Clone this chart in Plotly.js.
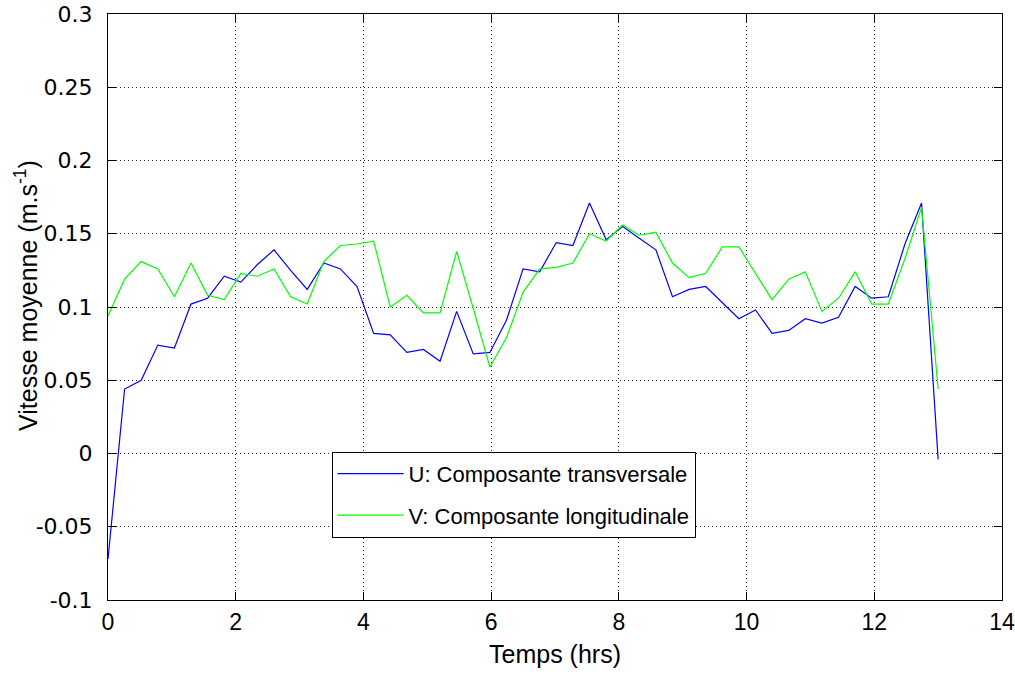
<!DOCTYPE html>
<html>
<head>
<meta charset="utf-8">
<script src="https://cdn.plot.ly/plotly-3.0.1.min.js"></script>
<style>html,body{margin:0;padding:0;background:#fff;}#chart{width:1015px;height:682px;}</style>
</head>
<body>
<div id="chart"></div>
<script>
// Time (hrs)
const temps = [0, 0.26, 0.52, 0.78, 1.04, 1.30, 1.56, 1.82, 2.08, 2.34,
  2.60, 2.86, 3.12, 3.38, 3.64, 3.90, 4.16, 4.42, 4.68, 4.94,
  5.20, 5.46, 5.72, 5.98, 6.24, 6.50, 6.76, 7.02, 7.28, 7.54,
  7.80, 8.06, 8.32, 8.58, 8.84, 9.10, 9.36, 9.62, 9.88, 10.14,
  10.40, 10.66, 10.92, 11.18, 11.44, 11.70, 11.96, 12.22, 12.48, 12.74, 13.00];

// U: Composante transversale
const uValues = [-0.072, 0.044, 0.050, 0.074, 0.072, 0.102, 0.106, 0.121, 0.117, 0.129,
  0.139, 0.125, 0.112, 0.130, 0.126, 0.114, 0.082, 0.081, 0.069, 0.071,
  0.063, 0.097, 0.068, 0.069, 0.091, 0.126, 0.124, 0.144, 0.142, 0.171,
  0.146, 0.155, 0.147, 0.139, 0.107, 0.112, 0.114, 0.103, 0.092, 0.098,
  0.082, 0.084, 0.092, 0.089, 0.093, 0.114, 0.106, 0.107, 0.143, 0.171, -0.004];

// V: Composante longitudinale
const vValues = [0.094, 0.119, 0.131, 0.126, 0.107, 0.130, 0.108, 0.105, 0.123, 0.121,
  0.126, 0.107, 0.102, 0.131, 0.142, 0.143, 0.145, 0.100, 0.108, 0.096,
  0.096, 0.138, 0.099, 0.059, 0.079, 0.110, 0.126, 0.127, 0.130, 0.150,
  0.145, 0.156, 0.149, 0.151, 0.130, 0.120, 0.123, 0.141, 0.141, 0.123,
  0.105, 0.119, 0.124, 0.097, 0.106, 0.124, 0.102, 0.102, 0.133, 0.168, 0.044];

const seriesNames = ['U: Composante transversale', 'V: Composante longitudinale'];
const xTicks = [0, 2, 4, 6, 8, 10, 12, 14];
const yTicks = [-0.1, -0.05, 0, 0.05, 0.1, 0.15, 0.2, 0.25, 0.3];
const yTickLabels = ['-0.1', '-0.05', '0', '0.05', '0.1', '0.15', '0.2', '0.25', '0.3'];
const xTitle = 'Temps (hrs)';
const yTitle = 'Vitesse moyenne (m.s<sup>-1</sup>)';

const fontFam = 'Liberation Sans, Arial, Helvetica, sans-serif';

const traces = [
  {x: temps, y: uValues, type: 'scatter', mode: 'lines', name: seriesNames[0],
   legendgroup: 'u', line: {color: '#0000ff', width: 1.2}},
  {x: temps, y: vValues, type: 'scatter', mode: 'lines', name: seriesNames[1],
   legendgroup: 'v', line: {color: '#00ff00', width: 1.2}}
];

const axisCommon = {
  showline: true, linecolor: '#000', linewidth: 1, mirror: 'ticks',
  ticks: 'inside', ticklen: 8, tickcolor: '#000', tickwidth: 1,
  showgrid: true, gridcolor: 'rgba(0,0,0,0.85)', griddash: '1px,3px', gridwidth: 1,
  zeroline: false, ticklabeloverflow: 'allow'
};

const layout = {
  width: 1015, height: 682,
  margin: {l: 108, r: 13, t: 14, b: 82},
  paper_bgcolor: '#fff', plot_bgcolor: '#fff',
  showlegend: true,
  legend: {x: 0.25, y: 0.253, xanchor: 'left', yanchor: 'top',
    bgcolor: '#fff', bordercolor: '#000', borderwidth: 1, itemwidth: 66,
    font: {family: fontFam, size: 22, color: '#000'}, tracegroupgap: 10},
  xaxis: Object.assign({}, axisCommon, {
    range: [0, 14], tickvals: xTicks, ticktext: xTicks.map(String),
    ticklabelstandoff: 1,
    tickfont: {family: fontFam, size: 23, color: '#000'},
    title: {text: xTitle, font: {family: fontFam, size: 25, color: '#000'}, standoff: 11}
  }),
  yaxis: Object.assign({}, axisCommon, {
    range: [-0.1, 0.3], tickvals: yTicks, ticktext: yTickLabels,
    ticklabelstandoff: 10,
    tickfont: {family: 'DejaVu Sans, Liberation Sans, sans-serif', size: 22, color: '#000'}
  }),
  annotations: [{
    text: yTitle, xref: 'paper', yref: 'paper', x: -0.091, y: 0.52,
    xanchor: 'center', yanchor: 'middle', textangle: -90, showarrow: false,
    font: {family: fontFam, size: 25, color: '#000'}
  }]
};

Plotly.newPlot('chart', traces, layout, {displayModeBar: false, staticPlot: true});
</script>
</body>
</html>
